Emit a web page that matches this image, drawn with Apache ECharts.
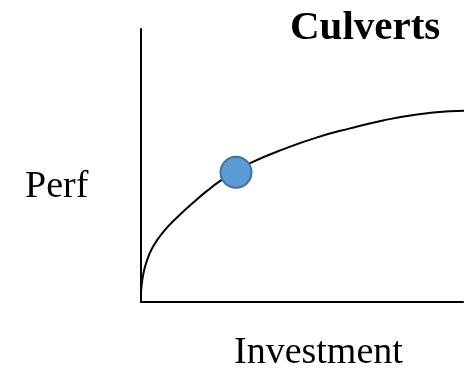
<!DOCTYPE html>
<html>
<head>
<meta charset="utf-8">
<script src="https://cdn.jsdelivr.net/npm/echarts@6/dist/echarts.min.js"></script>
<style>
html,body{margin:0;padding:0;background:#fff;}
#chart{width:468px;height:371px;}
</style>
</head>
<body>
<div id="chart"></div>
<script>
var chartTitle = 'Culverts';
var xAxisName = 'Investment';
var yAxisName = 'Perf';
// curve: investment vs performance
var curveX = [0, 0.5, 1.6, 3.7, 7.0, 11.5, 16.5, 20.5, 24.5, 29.5, 33.9, 44.1, 54.7, 64.9, 75.2, 85.7, 96.0, 101.6];
var curveY = [3.7, 8.8, 14.3, 20.2, 25.8, 31.3, 36.7, 40.7, 44.3, 48.0, 50.9, 55.9, 60.3, 63.6, 66.5, 68.7, 69.9, 70.1];
// highlighted point
var pointX = [29.5];
var pointY = [47.5];

var curveData = curveX.map(function (x, i) { return [x, curveY[i]]; });
var pointData = pointX.map(function (x, i) { return [x, pointY[i]]; });

var chart = echarts.init(document.getElementById('chart'), null, {renderer: 'canvas'});
chart.setOption({
  animation: false,
  backgroundColor: '#ffffff',
  title: [
    {text: chartTitle, left: 290, top: 8, padding: 0,
     textStyle: {fontFamily: 'Liberation Serif', fontWeight: 'bold', fontSize: 41, color: '#000'}},
    {text: yAxisName, left: 25, top: 168, padding: 0,
     textStyle: {fontFamily: 'Liberation Serif', fontWeight: 'normal', fontSize: 38, color: '#000'}},
    {text: xAxisName, left: 234, top: 334, padding: 0,
     textStyle: {fontFamily: 'Liberation Serif', fontWeight: 'normal', fontSize: 38, color: '#000'}}
  ],
  grid: {left: 141, right: 5, top: 29, bottom: 69, containLabel: false},
  xAxis: {
    type: 'value', min: 0, max: 100,
    axisLine: {show: true, onZero: false, lineStyle: {color: '#000', width: 2}},
    axisTick: {show: false}, axisLabel: {show: false}, splitLine: {show: false}
  },
  yAxis: {
    type: 'value', min: 0, max: 100,
    axisLine: {show: true, onZero: false, lineStyle: {color: '#000', width: 2}},
    axisTick: {show: false}, axisLabel: {show: false}, splitLine: {show: false}
  },
  series: [
    {
      type: 'line', data: curveData, smooth: 0.5,
      showSymbol: false, clip: false,
      lineStyle: {color: '#000', width: 2}
    },
    {
      type: 'scatter', data: pointData, symbol: 'circle', symbolSize: 31, clip: false,
      itemStyle: {color: '#5B9BD5', borderColor: '#41719C', borderWidth: 2, opacity: 1},
      z: 5
    }
  ]
});
</script>
</body>
</html>
